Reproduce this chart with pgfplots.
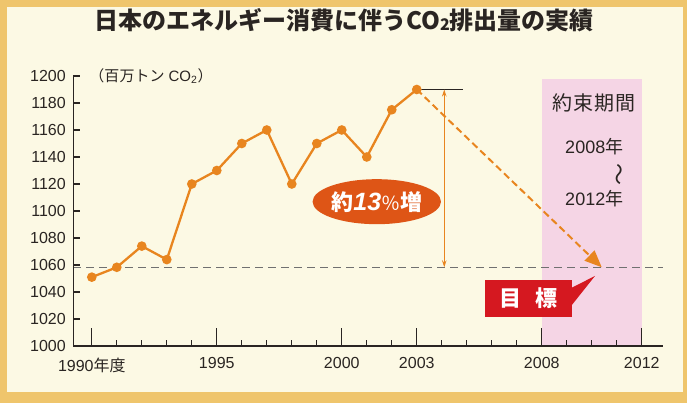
\documentclass[border=0pt]{standalone}
\usepackage{pgfplots}
\pgfplotsset{compat=1.18}
\usepackage{fontspec}
\setmainfont{Liberation Sans}
\newfontfamily\jp{Noto Sans CJK JP}
\usetikzlibrary{arrows.meta,shapes.geometric}
\definecolor{gold}{HTML}{EFC56C}
\definecolor{cream}{HTML}{FCF9E4}
\definecolor{pinkz}{HTML}{F5D5E5}
\definecolor{orng}{HTML}{E8851F}
\definecolor{ellred}{HTML}{DE5516}
\definecolor{tred}{HTML}{D51820}
\definecolor{txt}{HTML}{2A2522}
\definecolor{dgray}{HTML}{707070}
\begin{document}
\begin{tikzpicture}
\fill[gold] (0pt,0pt) rectangle (687pt,403pt);
\fill[cream] (7pt,11pt) rectangle (683pt,396pt);
\node[font=\jp\bfseries\fontsize{24}{26}\selectfont, text=txt, inner sep=0pt] at (344pt,383pt) {日本のエネルギー消費に伴うCO\raisebox{-0.05em}{\fontsize{16}{16}\selectfont 2}排出量の実績};
\begin{axis}[
  at={(73.3pt,57pt)}, anchor=south west,
  scale only axis, width=589.7pt, height=270pt,
  xmin=1989.26, xmax=2012.85, ymin=1000, ymax=1200,
  axis x line=bottom, axis y line=left,
  axis line style={-, draw=txt, line width=1.2pt},
  axis on top, clip=false,
  tick align=inside,
  xtick={1990,1995,2000,2003,2008,2012},
  xticklabels={1990{\jp 年度},1995,2000,2003,2008,2012},
  minor xtick={1991,1992,1993,1994,1996,1997,1998,1999,2001,2002,2004,2005,2006,2007,2009,2010,2011},
  ytick={1000,1020,...,1200},
  major tick length=7pt,
  minor tick length=6pt,
  xtick style={/pgfplots/major tick length=18pt, draw=txt, line width=1.2pt},
  ytick style={draw=txt, line width=1.2pt},
  minor tick style={draw=txt, line width=1pt},
  /pgf/number format/1000 sep={},
  /pgf/number format/assume math mode=true,
  x tick label style={font=\fontsize{16}{18}\selectfont, text=txt, yshift=-8pt},
  y tick label style={font=\fontsize{16}{18}\selectfont, text=txt, xshift=-4pt},
  scaled ticks=false,
]
\fill[pinkz] (axis cs:2008,1000) rectangle (axis cs:2012,1198);
\draw[dgray, line width=1pt, dash pattern=on 8pt off 5pt] (axis cs:1989.26,1058.3) -- (axis cs:2012.85,1058.3);
\draw[txt, line width=0.8pt] (axis cs:2003,1190) -- (axis cs:2004.85,1190);
\draw[orng, line width=1pt, {Stealth[length=7pt,width=4.5pt]}-{Stealth[length=7pt,width=4.5pt]}] (axis cs:2004.1,1190) -- (axis cs:2004.1,1058.3);
\draw[orng, line width=2pt, dash pattern=on 7pt off 4pt, -{Triangle[length=17pt,width=14pt]}] (axis cs:2003,1190) -- (axis cs:2010.4,1058.3);
\addplot[orng, line width=2.3pt, mark=*, mark size=3.6pt, mark options={fill=orng, draw=orng, solid}] coordinates {
(1990,1051) (1991,1058.3) (1992,1074) (1993,1064) (1994,1120) (1995,1130) (1996,1150) (1997,1160) (1998,1120) (1999,1150) (2000,1160) (2001,1140) (2002,1175) (2003,1190)
};
\node[ellipse, fill=ellred, minimum width=125pt, minimum height=45pt, inner sep=0pt, text=white] at (axis cs:2001.4,1106.9)
  {{\jp\bfseries\fontsize{22}{24}\selectfont 約}{\bfseries\itshape\fontsize{25}{26}\selectfont 13}{\jp\fontsize{19}{20}\selectfont ％}{\jp\bfseries\fontsize{22}{24}\selectfont 増}};
\fill[tred] (axis cs:2005.73,1021.7) rectangle (axis cs:2009.2,1048.9);
\fill[tred] (axis cs:2009.15,1042.7) -- (axis cs:2010.13,1051.9) -- (axis cs:2009.15,1029.1) -- cycle;
\node[text=white, font=\jp\bfseries\fontsize{22}{24}\selectfont] at (axis cs:2007.47,1035.3) {目\hspace{0.6em}標};
\node[text=txt, font=\jp\fontsize{20}{22}\selectfont] at (axis cs:2010.1,1180) {約\hspace{1pt}束\hspace{1pt}期\hspace{1pt}間};
\node[text=txt, font=\fontsize{18}{20}\selectfont] at (axis cs:2010.1,1147.4) {2008{\jp 年}};
\node[text=txt, font=\jp\fontsize{22}{24}\selectfont, rotate=90] at (axis cs:2011.2,1126.9) {〜};
\node[text=txt, font=\fontsize{18}{20}\selectfont] at (axis cs:2010.1,1108.9) {2012{\jp 年}};
\node[anchor=west, text=txt, font=\fontsize{15}{17}\selectfont, inner sep=0pt] at (axis cs:1989.26,1200) {\hspace{16pt}{\jp （百万トン} CO\textsubscript{2}{\jp ）}};
\end{axis}
\end{tikzpicture}
\end{document}
